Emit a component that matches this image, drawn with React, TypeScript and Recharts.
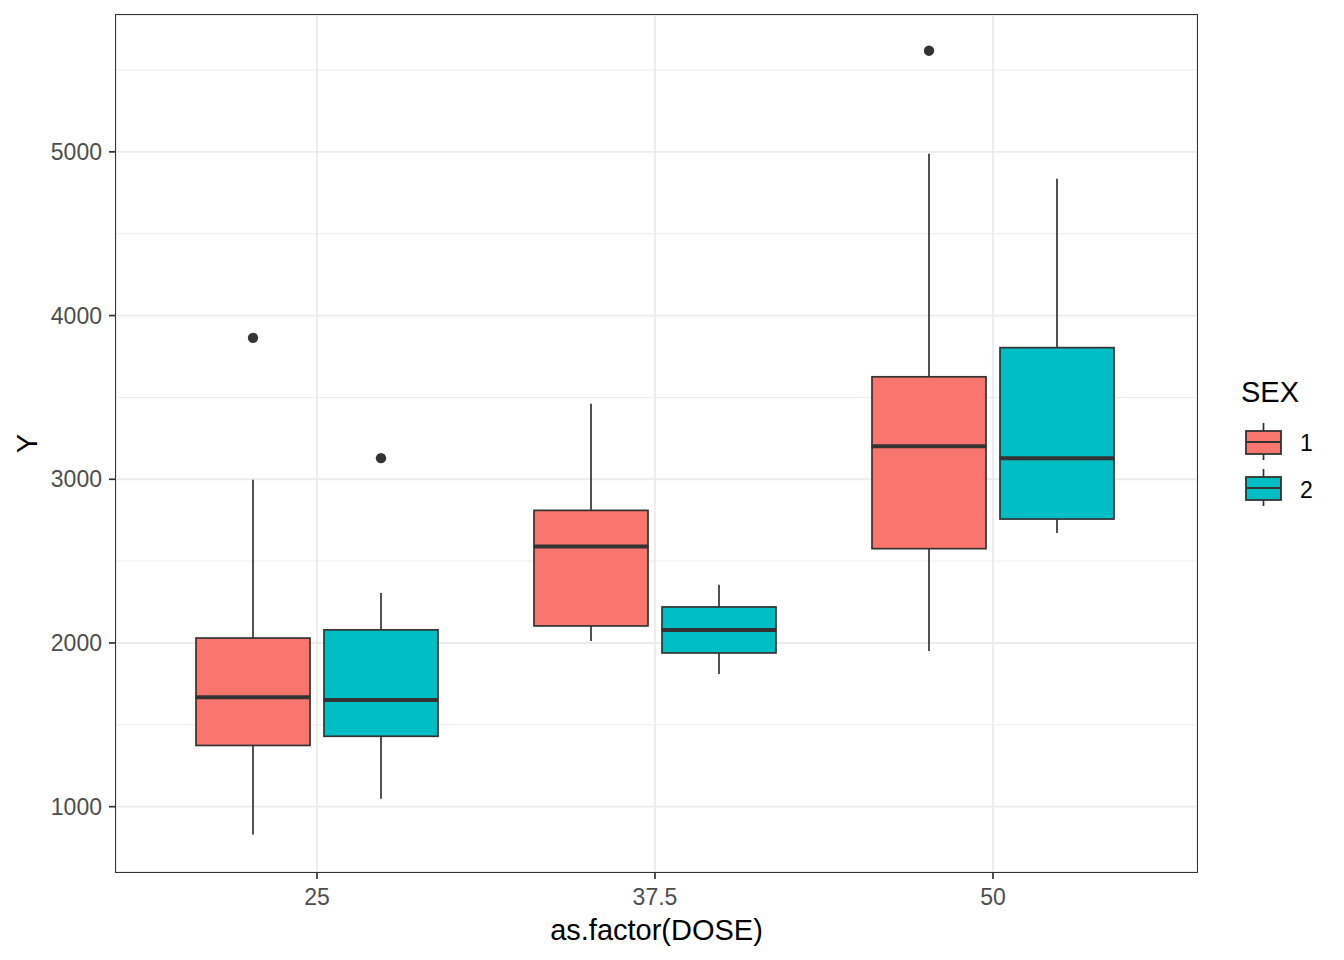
import React from 'react';
import { ComposedChart, Bar, XAxis, YAxis, CartesianGrid } from 'recharts';

// dose groups on the x axis
const doses = ['25', '37.5', '50'];

// SEX 1 box stats per dose
const sex1Low = [830, 2012, 1951];
const sex1Q1 = [1374, 2104, 2576];
const sex1Median = [1668, 2590, 3202];
const sex1Q3 = [2030, 2810, 3626];
const sex1High = [2997, 3461, 4988];
const sex1Outlier = [3864, null, 5618];

// SEX 2 box stats per dose
const sex2Low = [1049, 1810, 2672];
const sex2Q1 = [1430, 1939, 2757];
const sex2Median = [1651, 2080, 3129];
const sex2Q3 = [2080, 2220, 3804];
const sex2High = [2306, 2355, 4835];
const sex2Outlier = [3129, null, null];

const yTicks = [1000, 2000, 3000, 4000, 5000];
const yMinor = [1500, 2500, 3500, 4500, 5500];

const FONT = '"Liberation Sans", Arial, sans-serif';
const DARK = '#333333';
const RED = '#F8766D';
const TEAL = '#00BFC4';

// stacked segments: base -> lower whisker -> lower box -> upper box -> upper whisker -> gap to outlier
const data = doses.map((dose, i) => ({
  dose,
  a_base: sex1Low[i],
  a_wlo: sex1Q1[i] - sex1Low[i],
  a_blo: sex1Median[i] - sex1Q1[i],
  a_bhi: sex1Q3[i] - sex1Median[i],
  a_whi: sex1High[i] - sex1Q3[i],
  a_out: sex1Outlier[i] != null ? (sex1Outlier[i] as number) - sex1High[i] : 0,
  a_hasOut: sex1Outlier[i] != null,
  b_base: sex2Low[i],
  b_wlo: sex2Q1[i] - sex2Low[i],
  b_blo: sex2Median[i] - sex2Q1[i],
  b_bhi: sex2Q3[i] - sex2Median[i],
  b_whi: sex2High[i] - sex2Q3[i],
  b_out: sex2Outlier[i] != null ? (sex2Outlier[i] as number) - sex2High[i] : 0,
  b_hasOut: sex2Outlier[i] != null,
}));

const Empty = () => null;

const Whisker = (props: any) => {
  const { x, y, width, height } = props;
  if (height == null || width == null) return null;
  const cx = x + width / 2;
  return <line x1={cx} x2={cx} y1={y} y2={y + height} stroke={DARK} strokeWidth={1.7} />;
};

const boxShape = (fill: string, withMedian: boolean) => (props: any) => {
  const { x, y, width, height } = props;
  if (height == null || width == null) return null;
  return (
    <g>
      <rect x={x} y={y} width={width} height={height} fill={fill} stroke={DARK} strokeWidth={1.7} />
      {withMedian && (
        <line x1={x} x2={x + width} y1={y + height} y2={y + height} stroke={DARK} strokeWidth={4} />
      )}
    </g>
  );
};

const outlierShape = (flag: string) => (props: any) => {
  const { x, y, width, payload } = props;
  if (!payload || !payload[flag]) return null;
  return <circle cx={x + width / 2} cy={y} r={5.2} fill={DARK} />;
};

const YTitle = (props: any) => {
  const vb = props.viewBox;
  const cx = vb.x + 27;
  const cy = vb.y + vb.height / 2;
  return (
    <text x={cx} y={cy} transform={`rotate(-90 ${cx} ${cy})`} textAnchor="middle" dy={10}
      fontSize={29} fontFamily={FONT} fill="#000">Y</text>
  );
};

const XTitle = (props: any) => {
  const vb = props.viewBox;
  return (
    <text x={vb.x + vb.width / 2} y={vb.y + 68} textAnchor="middle" fontSize={29}
      fontFamily={FONT} fill="#000">as.factor(DOSE)</text>
  );
};

const LegendKey = ({ top, fill }: { top: number; fill: string }) => (
  <g>
    <line x1={1263.5} x2={1263.5} y1={top - 8} y2={top + 29} stroke={DARK} strokeWidth={1.7} />
    <rect x={1246} y={top} width={35} height={23} fill={fill} stroke={DARK} strokeWidth={1.8} />
    <line x1={1246} x2={1281} y1={top + 11} y2={top + 11} stroke={DARK} strokeWidth={2} />
  </g>
);

export default function App() {
  return (
    <div style={{ position: 'absolute', left: 0, top: 0, width: 1344, height: 960, background: '#fff' }}>
      <ComposedChart
        width={1344}
        height={960}
        data={data}
        margin={{ top: 15, right: 147, left: 0, bottom: 0 }}
        barSize={114}
        barGap={14}
      >
        <CartesianGrid horizontalValues={yMinor} vertical={false} stroke="#EBEBEB" strokeWidth={1} />
        <CartesianGrid stroke="#EBEBEB" strokeWidth={1.8} />
        <XAxis
          dataKey="dose"
          height={88}
          padding={{ left: 32, right: 35 }}
          tickSize={7}
          tickMargin={10}
          tick={{ fill: '#4D4D4D', fontSize: 23, fontFamily: FONT }}
          tickLine={{ stroke: DARK, strokeWidth: 1.7 }}
          axisLine={false}
          label={<XTitle />}
        />
        <YAxis
          width={116}
          type="number"
          domain={[601, 5836]}
          allowDataOverflow
          ticks={yTicks}
          tickSize={7}
          tickMargin={7}
          tick={{ fill: '#4D4D4D', fontSize: 23, fontFamily: FONT }}
          tickLine={{ stroke: DARK, strokeWidth: 1.7 }}
          axisLine={false}
          label={<YTitle />}
        />
        <Bar dataKey="a_base" stackId="s1" shape={<Empty />} isAnimationActive={false} />
        <Bar dataKey="a_wlo" stackId="s1" shape={Whisker} isAnimationActive={false} />
        <Bar dataKey="a_blo" stackId="s1" shape={boxShape(RED, false)} isAnimationActive={false} />
        <Bar dataKey="a_bhi" stackId="s1" shape={boxShape(RED, true)} isAnimationActive={false} />
        <Bar dataKey="a_whi" stackId="s1" shape={Whisker} isAnimationActive={false} />
        <Bar dataKey="a_out" stackId="s1" shape={outlierShape('a_hasOut')} isAnimationActive={false} />
        <Bar dataKey="b_base" stackId="s2" shape={<Empty />} isAnimationActive={false} />
        <Bar dataKey="b_wlo" stackId="s2" shape={Whisker} isAnimationActive={false} />
        <Bar dataKey="b_blo" stackId="s2" shape={boxShape(TEAL, false)} isAnimationActive={false} />
        <Bar dataKey="b_bhi" stackId="s2" shape={boxShape(TEAL, true)} isAnimationActive={false} />
        <Bar dataKey="b_whi" stackId="s2" shape={Whisker} isAnimationActive={false} />
        <Bar dataKey="b_out" stackId="s2" shape={outlierShape('b_hasOut')} isAnimationActive={false} />
      </ComposedChart>
      {/* panel border */}
      <div style={{ position: 'absolute', left: 115, top: 14, width: 1081, height: 857, border: `1.5px solid ${DARK}`, pointerEvents: 'none' }} />
      {/* legend */}
      <svg width={1344} height={960} style={{ position: 'absolute', left: 0, top: 0, pointerEvents: 'none' }}>
        <text x={1241} y={402} fontSize={29} fontFamily={FONT} fill="#000">SEX</text>
        <LegendKey top={431} fill={RED} />
        <LegendKey top={477} fill={TEAL} />
        <text x={1300} y={451} fontSize={23} fontFamily={FONT} fill="#000">1</text>
        <text x={1300} y={498} fontSize={23} fontFamily={FONT} fill="#000">2</text>
      </svg>
    </div>
  );
}
